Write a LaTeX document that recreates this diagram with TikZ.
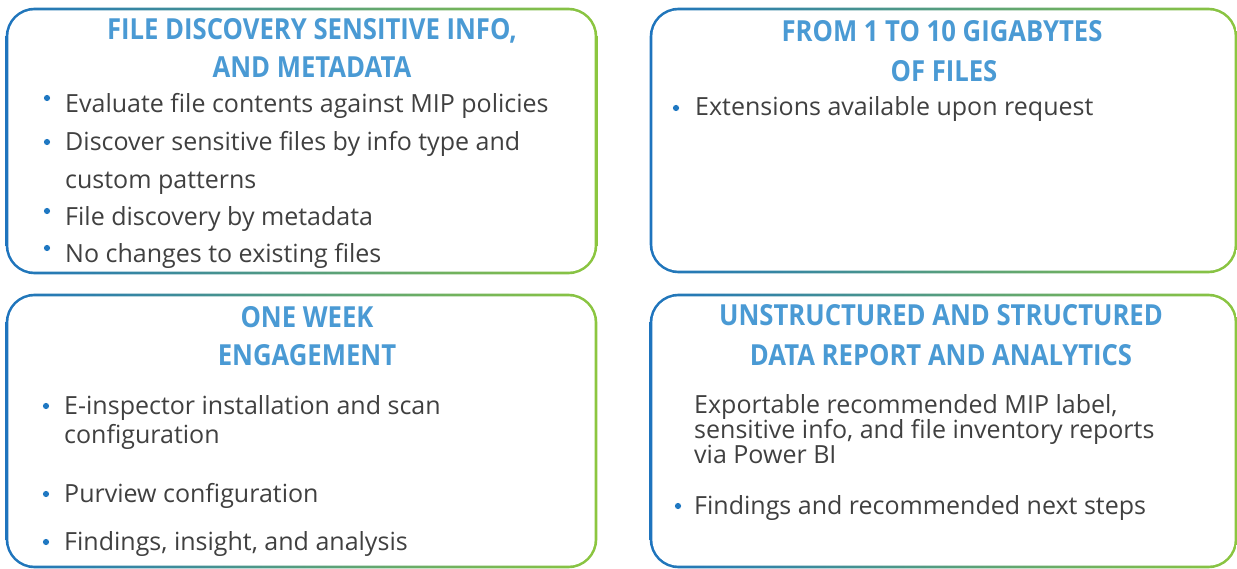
\documentclass[tikz,border=0pt]{standalone}
\usepackage{fontspec}
\setmainfont{Open Sans}
\newfontfamily\ttlfont{Open Sans}[FakeStretch=0.885]
\definecolor{gA}{HTML}{1E74BE}
\definecolor{gB}{HTML}{4EC2E9}
\definecolor{gC}{HTML}{8CC63F}
\definecolor{ttl}{HTML}{4A9AD4}
\definecolor{txt}{HTML}{404040}
\definecolor{bul}{HTML}{1F78C2}
\newcommand{\gradbox}[5]{%
  \shade[rounded corners=29pt, left color=gA, middle color=gB, right color=gC]
    (#2-1.3,#3-1.3) rectangle (#4+1.3,#5+1.3);
  \fill[white, rounded corners=26.4pt] (#2+1.3,#3+1.3) rectangle (#4-1.3,#5-1.3);
  \node[inner sep=0pt, minimum width=#4-#2, minimum height=#5-#3] (#1) at ({(#2+#4)/2},{(#3+#5)/2}) {};
}
\tikzset{
  ttlstyle/.style={anchor=base, inner sep=0pt, text=ttl, font=\ttlfont\fontsize{29}{34}\selectfont\bfseries},
  itemstyle/.style={anchor=base west, inner sep=0pt, text=txt, font=\fontsize{25}{29}\selectfont},
}
\newcommand{\bul}[2]{\fill[bul] (#1,#2) circle (3.1);}
\begin{document}
\begin{tikzpicture}[x=1pt,y=-1pt]
\useasboundingbox (0,0) rectangle (1237,569);
% boxes
\gradbox{boxA}{7}{9}{596}{273}
\gradbox{boxB}{651}{9}{1236}{272}
\gradbox{boxC}{7}{295}{596}{567}
\gradbox{boxD}{651}{295}{1236}{567}
% box A
\node[ttlstyle] (tA1) at (312,40) {FILE DISCOVERY SENSITIVE INFO,};
\node[ttlstyle] (tA2) at (312,78) {AND METADATA};
\node[itemstyle] (a1) at (65,113) {Evaluate file contents against MIP policies};
\node[itemstyle] (a2) at (65,151) {Discover sensitive files by info type and};
\node[itemstyle] (a3) at (65,189) {custom patterns};
\node[itemstyle] (a4) at (65,226) {File discovery by metadata};
\node[itemstyle] (a5) at (65,263) {No changes to existing files};
\bul{47}{98}\bul{47}{142}\bul{47}{211}\bul{47}{248}
% box B
\node[ttlstyle] (tB1) at (942,42) {FROM 1 TO 10 GIGABYTES};
\node[ttlstyle] (tB2) at (944,82) {OF FILES};
\node[itemstyle] (b1) at (695,116) {Extensions available upon request};
\bul{676}{108}
% box C
\node[ttlstyle] (tC1) at (307,327) {ONE WEEK};
\node[ttlstyle] (tC2) at (307,366) {ENGAGEMENT};
\node[itemstyle] (c1) at (64,414) {E-inspector installation and scan};
\node[itemstyle] (c2) at (64,443) {configuration};
\node[itemstyle] (c3) at (64,502) {Purview configuration};
\node[itemstyle] (c4) at (64,550) {Findings, insight, and analysis};
\bul{46}{406}\bul{46}{494}\bul{46}{542}
% box D
\node[ttlstyle] (tD1) at (941,326) {UNSTRUCTURED AND STRUCTURED};
\node[ttlstyle] (tD2) at (941,366) {DATA REPORT AND ANALYTICS};
\node[itemstyle] (d1) at (694,413) {Exportable recommended MIP label,};
\node[itemstyle] (d2) at (694,438) {sensitive info, and file inventory reports};
\node[itemstyle] (d3) at (694,463) {via Power BI};
\node[itemstyle] (d4) at (694,514) {Findings and recommended next steps};
\bul{678}{506}
\end{tikzpicture}
\end{document}
